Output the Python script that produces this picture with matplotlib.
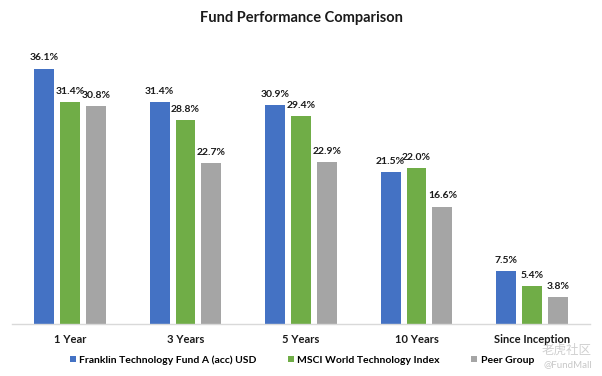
import matplotlib
matplotlib.use("Agg")
import matplotlib.pyplot as plt
import numpy as np

categories = ["1 Year", "3 Years", "5 Years", "10 Years", "Since Inception"]
series_names = ["Franklin Technology Fund A (acc) USD", "MSCI World Technology Index", "Peer Group"]
fund = [36.1, 31.4, 30.9, 21.5, 7.5]
index = [31.4, 28.8, 29.4, 22.0, 5.4]
peer = [30.8, 22.7, 22.9, 16.6, 3.8]
colors = ["#4472C4", "#70AD47", "#A5A5A5"]

plt.rcParams['font.family'] = ['Lato', 'DejaVu Sans']

fig = plt.figure(figsize=(6.02, 3.76), dpi=100)
ax = fig.add_axes([12.25/602, 1-324/376, (589.75-12.25)/602, 283/376])

x = np.arange(len(categories))
w = 0.173
off = 0.225
for i, (vals, name, c) in enumerate(zip([fund, index, peer], series_names, colors)):
    pos = x + (i-1)*off
    ax.bar(pos, vals, width=w, color=c, label=name)
    for p, v in zip(pos, vals):
        ax.annotate(f"{v:.1f}%", (p, v), xytext=(0, 4.5), textcoords="offset points",
                    ha="center", va="bottom", fontsize=7.5, fontweight="bold", color="#1a1a1a")

ax.set_xlim(-0.5, len(categories)-0.5)
ax.set_ylim(0, 40)
ax.set_yticks([])
for s in ["top", "right", "left"]:
    ax.spines[s].set_visible(False)
ax.spines["bottom"].set_color("#D9D9D9")
ax.spines["bottom"].set_linewidth(1)
ax.set_xticks(x)
ax.set_xticklabels(categories, fontsize=8, fontweight="bold", color="#1a1a1a")
ax.tick_params(axis="x", length=0, pad=7)

fig.text(0.5, 1-18/376, "Fund Performance Comparison", ha="center", va="center",
         fontsize=10.5, fontweight="bold", color="#1a1a1a")

fig.legend(loc="center", bbox_to_anchor=(302/602, 1-360/376), ncol=3, frameon=False,
           handlelength=0.6, handleheight=0.6, handletextpad=0.3,
           columnspacing=3.0, prop={"weight": "bold", "size": 7.5})

fig.text(592/602, 1-350/376, "老虎社区", ha="right", va="center", fontsize=9,
         color="#D0D0D0", family=["Noto Sans CJK SC", "DejaVu Sans"])
fig.text(592/602, 1-365/376, "@FundMall", ha="right", va="center", fontsize=7,
         color="#C8C8C8")

fig.savefig("out.png", dpi=100)
